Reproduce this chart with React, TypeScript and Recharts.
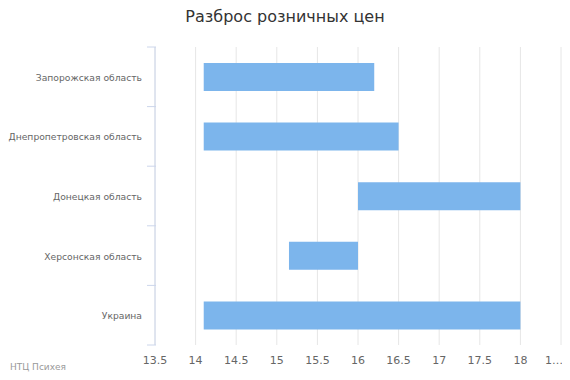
import React from "react";
import { BarChart, Bar, XAxis, YAxis, CartesianGrid } from "recharts";

const regions = [
  "Запорожская область",
  "Днепропетровская область",
  "Донецкая область",
  "Херсонская область",
  "Украина",
];
const minPrice = [14.1, 14.1, 16.0, 15.15, 14.1];
const maxPrice = [16.2, 16.5, 18.0, 16.0, 18.0];
const priceTicks = [13.5, 14, 14.5, 15, 15.5, 16, 16.5, 17, 17.5, 18, 18.5];

const data = regions.map((name, i) => ({
  name,
  range: [minPrice[i], maxPrice[i]],
}));

const FONT = "'DejaVu Sans', sans-serif";
const PLOT_TOP = 47;
const PLOT_BOTTOM = 345;
const BAND = (PLOT_BOTTOM - PLOT_TOP) / regions.length;

const CategoryTick = (props: any) => {
  const { x, y, payload, index } = props;
  const axisX = x + 9;
  return (
    <g>
      <line x1={axisX - 9} x2={axisX} y1={y - BAND / 2} y2={y - BAND / 2} stroke="#ccd6eb" />
      {index === regions.length - 1 && (
        <line x1={axisX - 9} x2={axisX} y1={y + BAND / 2} y2={y + BAND / 2} stroke="#ccd6eb" />
      )}
      <text
        x={axisX - 14}
        y={y}
        dy={4}
        textAnchor="end"
        fill="#666666"
        fontSize={9.2}
        fontFamily={FONT}
      >
        {payload.value}
      </text>
    </g>
  );
};

const PriceTick = (props: any) => {
  const { x, y, payload, index } = props;
  const last = index === priceTicks.length - 1;
  return (
    <text
      x={x}
      y={y + 11}
      textAnchor={last ? "start" : "middle"}
      dx={last ? -16 : 0}
      fill="#666666"
      fontSize={11}
      fontFamily={FONT}
    >
      {last ? "1…" : String(payload.value)}
    </text>
  );
};

export default function App() {
  return (
    <div style={{ position: "relative", width: 570, height: 380, margin: -8, background: "#fff" }}>
      <div
        style={{
          position: "absolute",
          top: 7,
          left: 0,
          width: 570,
          textAlign: "center",
          fontFamily: FONT,
          fontSize: 16,
          color: "#333333",
        }}
      >
        Разброс розничных цен
      </div>
      <BarChart
        width={570}
        height={380}
        data={data}
        layout="vertical"
        margin={{ top: PLOT_TOP, right: 9, left: 0, bottom: 380 - PLOT_BOTTOM - 25 }}
      >
        <CartesianGrid horizontal={false} vertical={true} stroke="#e6e6e6" />
        <XAxis
          type="number"
          domain={[13.5, 18.5]}
          ticks={priceTicks}
          axisLine={false}
          tickLine={false}
          height={25}
          interval={0}
          tick={<PriceTick />}
        />
        <YAxis
          type="category"
          dataKey="name"
          width={155}
          axisLine={{ stroke: "#ccd6eb" }}
          tickLine={false}
          tick={<CategoryTick />}
        />
        <Bar dataKey="range" fill="#7cb5ec" barSize={28} isAnimationActive={false} />
      </BarChart>
      <div
        style={{
          position: "absolute",
          left: 10,
          top: 362,
          fontFamily: FONT,
          fontSize: 9,
          lineHeight: "11px",
          color: "#999999",
        }}
      >
        НТЦ Психея
      </div>
    </div>
  );
}
